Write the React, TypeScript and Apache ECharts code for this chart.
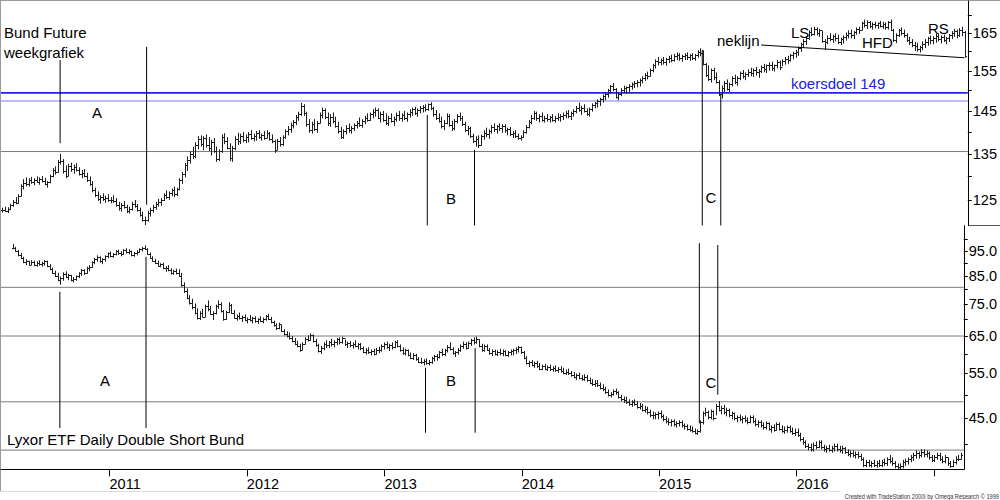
import React, { useEffect, useRef } from 'react';
import * as echarts from 'echarts';

const FONT = '"Liberation Sans", Arial, Helvetica, sans-serif';

// ---- Bund Future, weekly bars [high, low, close], first bar week of 2010-03-22 ----
const bundStart = '2010-03-22';
const bund2010 = [
  [123.4,122.4,123.0],[123.6,122.5,122.8],[123.5,122.3,123.2],[124.2,122.9,123.9],[125.0,123.6,124.6],
  [125.6,124.1,124.4],[126.2,124.2,125.9],[128.3,125.7,127.9],[129.4,127.2,128.6],[129.8,127.9,128.3],
  [129.6,127.8,129.2],[129.9,128.4,128.9],[129.6,128.1,129.3],[130.0,128.6,128.9],[129.8,128.2,129.4],
  [130.1,128.7,129.0],[129.7,128.1,128.4],[129.0,127.6,128.8],[130.4,128.5,130.1],[131.8,129.8,131.4],
  [132.2,130.4,131.0],[133.6,130.8,133.2],[135.0,132.6,133.4],[133.8,130.6,131.2],[132.4,129.6,130.2],
  [132.8,130.0,132.3],[133.0,131.0,131.6],[132.6,130.6,132.1],[132.9,131.1,131.5],[132.0,130.2,130.6],
  [131.4,129.6,130.8],[131.6,129.8,130.2],[130.8,128.8,129.3],[130.0,128.0,128.4],[129.0,126.6,127.0],
  [127.6,125.6,126.0],[126.8,124.8,125.2],[126.0,124.2,125.6],[126.4,124.8,125.2],[125.9,124.4,125.5],
  [126.2,124.6,124.9],
];
const bund2011 = [
  [125.6,124.3,125.1],[126.0,124.4,124.8],[125.4,123.6,123.9],[124.6,122.8,123.4],[124.4,122.6,124.0],
  [124.8,123.2,123.5],[124.0,122.3,122.7],[123.6,122.2,123.2],[124.6,122.8,124.2],[125.0,123.4,123.7],
  [124.2,122.6,122.9],[123.4,121.6,122.0],[122.6,120.6,121.0],[121.6,119.9,120.9],[122.8,120.6,122.4],
  [123.4,121.6,122.9],[124.0,122.4,123.6],[124.6,123.0,124.2],[125.2,123.6,124.6],[125.4,123.8,125.1],
  [126.4,124.8,126.0],[127.0,125.2,125.6],[126.8,125.0,126.4],[127.4,125.8,127.0],[127.8,125.6,126.2],
  [127.6,125.8,127.3],[129.6,127.0,129.2],[131.0,128.4,130.6],[133.0,129.8,132.6],[134.4,131.2,133.6],
  [135.6,132.8,135.0],[136.6,133.8,134.4],[137.6,134.0,137.0],[139.0,136.0,138.4],[139.2,136.6,137.2],
  [139.0,135.8,138.6],[139.4,136.4,137.0],[138.8,135.6,136.2],[138.2,134.6,137.6],[138.6,135.2,135.6],
  [136.6,133.2,133.8],[136.0,133.4,135.6],[139.4,135.2,138.8],[139.7,137.2,137.8],[138.8,136.0,136.4],
  [137.4,133.4,134.0],[136.8,133.2,136.2],[139.0,135.8,138.4],[139.8,137.0,137.8],[139.6,137.2,139.0],
  [140.0,137.6,138.2],[139.4,137.4,138.8],
];
const bund2012 = [
  [140.0,137.6,139.6],[140.4,138.2,138.6],[139.6,137.8,139.0],[140.2,138.0,139.8],[140.4,138.4,138.8],
  [139.6,138.0,139.2],[140.2,138.2,138.6],[140.4,138.6,139.8],[140.0,138.0,138.4],[139.4,137.4,137.8],
  [138.2,135.2,135.8],[138.4,135.8,137.8],[138.8,136.6,137.2],[139.2,136.8,138.8],[140.6,138.4,140.2],
  [141.4,139.2,140.6],[142.2,139.8,141.6],[142.8,140.8,142.4],[144.0,141.6,143.6],[144.8,142.6,144.2],
  [147.0,143.8,146.2],[146.6,143.8,144.4],[144.8,141.2,141.8],[143.0,139.8,140.4],[142.4,139.6,141.8],
  [143.0,140.2,140.6],[142.6,139.8,142.2],[144.6,142.0,144.0],[145.8,143.2,145.2],[145.6,143.0,143.6],
  [144.6,141.4,142.0],[144.2,141.2,143.6],[144.6,142.0,142.6],[143.6,141.0,141.4],[142.4,139.6,140.2],
  [141.2,138.4,138.8],[140.6,138.4,140.2],[141.6,139.4,141.0],[142.0,139.8,140.4],[141.4,139.6,141.0],
  [142.0,140.2,141.6],[142.6,140.8,142.2],[143.4,141.2,141.6],[143.0,141.0,142.6],[143.8,141.8,143.4],
  [144.4,142.4,142.8],[144.6,142.6,144.2],[145.4,143.2,144.8],[145.8,143.6,145.2],[145.6,143.0,143.4],
  [144.8,142.2,144.2],[145.0,142.4,142.8],
];
const bund2013 = [
  [144.4,141.6,142.2],[143.8,141.4,143.4],[144.4,142.2,142.6],[143.6,141.4,143.0],[144.6,142.4,144.0],
  [145.0,142.6,143.2],[144.4,142.4,144.0],[145.0,142.8,143.4],[144.6,142.4,144.2],[145.4,143.4,144.8],
  [145.8,143.8,145.4],[146.0,144.0,144.6],[145.6,143.6,145.2],[146.2,144.4,145.8],[146.4,144.6,146.0],
  [146.6,144.8,145.4],[146.8,145.0,146.6],[147.1,145.2,145.8],[146.0,143.6,144.2],[145.2,142.8,143.4],
  [144.4,142.2,142.6],[143.6,140.8,141.4],[142.8,140.4,142.2],[144.4,141.8,143.8],[144.2,141.2,141.6],
  [142.6,140.2,140.8],[143.0,140.4,142.6],[144.2,142.0,143.8],[144.6,142.6,143.2],[143.8,141.4,141.8],
  [142.4,140.0,140.4],[141.4,139.2,140.8],[141.2,138.6,139.0],[139.6,137.4,137.8],[139.0,136.6,138.4],
  [139.2,136.3,137.0],[139.4,136.8,139.0],[140.4,138.2,139.8],[141.0,138.8,139.4],[140.6,138.4,140.2],
  [141.6,139.6,141.2],[142.0,140.0,140.6],[141.6,139.6,141.4],[142.0,140.2,140.8],[141.8,139.8,141.4],
  [141.8,139.8,140.4],[141.0,139.2,140.6],[141.2,139.0,139.4],[140.2,138.6,139.8],[140.4,138.6,139.0],
  [139.6,138.2,138.6],[139.2,138.0,138.8],
];
const bund2014 = [
  [140.4,138.6,140.0],[141.6,139.6,141.2],[142.8,140.8,142.4],[144.0,141.8,143.4],[145.0,142.8,144.4],
  [144.8,142.6,143.2],[144.2,142.2,143.8],[144.6,142.4,142.8],[143.8,142.2,143.4],[144.2,142.4,143.0],
  [143.8,142.2,143.6],[144.2,142.4,142.8],[143.8,142.2,143.4],[144.4,142.6,143.6],[144.2,142.4,143.8],
  [144.6,142.8,144.0],[145.0,143.2,144.6],[145.2,143.2,143.8],[144.8,142.8,144.6],[145.4,143.6,145.0],
  [146.2,144.4,145.8],[147.0,144.8,145.2],[146.2,144.0,145.8],[146.6,144.6,145.0],[145.6,143.8,144.2],
  [145.8,143.6,145.4],[146.8,144.8,146.4],[147.2,145.6,146.8],[147.8,145.8,147.4],[148.2,146.2,147.8],
  [149.0,147.0,148.6],[149.6,147.6,149.2],[150.4,148.2,150.0],[151.4,149.2,151.0],[151.9,149.8,150.4],
  [150.6,148.0,148.4],[149.4,147.6,149.0],[150.6,148.6,150.2],[151.2,149.4,150.6],[151.0,149.2,150.8],
  [151.6,149.6,151.2],[152.0,150.2,151.6],[152.4,150.6,151.8],[152.6,150.8,152.2],[153.0,151.0,152.6],
  [153.6,151.8,153.2],[154.4,152.4,154.0],[154.8,152.8,153.6],[155.6,153.6,155.2],[156.8,154.6,156.4],
  [158.0,155.6,157.6],[158.6,156.4,157.2],
];
const bund2015 = [
  [158.2,156.4,157.8],[158.6,156.6,157.4],[158.4,156.3,158.0],[158.9,157.0,158.4],[159.2,157.2,157.8],
  [159.4,157.4,158.8],[159.8,157.8,159.2],[159.6,157.6,158.4],[159.2,157.4,158.8],[159.6,157.8,159.2],
  [159.8,157.8,158.6],[159.4,157.6,159.0],[159.6,157.8,158.4],[159.4,157.6,159.2],[160.4,158.4,160.0],
  [160.9,158.8,159.6],[160.4,156.4,156.8],[157.0,153.4,154.0],[156.4,152.4,153.0],[155.6,152.0,155.2],
  [155.8,152.6,153.4],[154.6,151.8,152.2],[152.6,148.6,149.2],[151.2,148.0,150.6],[152.4,149.6,151.8],
  [152.8,150.0,150.4],[152.0,149.6,151.6],[153.6,151.0,153.2],[154.0,151.6,152.2],[153.6,151.2,153.2],
  [154.8,152.6,154.4],[155.2,153.0,153.6],[154.6,152.6,154.2],[155.4,153.4,154.8],[155.8,153.6,154.4],
  [155.6,153.4,155.2],[156.0,153.8,154.6],[155.4,153.2,155.0],[156.4,154.4,156.0],[156.8,154.6,155.4],
  [156.6,154.4,156.4],[157.2,155.0,156.6],[157.4,155.0,155.6],[156.6,154.8,156.4],[157.8,155.6,157.2],
  [157.6,155.2,156.0],[158.0,156.2,157.6],[158.6,156.6,158.2],[158.9,156.8,157.8],[159.4,157.4,159.0],
  [160.0,158.0,159.6],[160.5,158.4,159.8],
];
const bund2016 = [
  [161.4,158.9,161.0],[162.4,160.0,162.0],[163.4,161.0,163.0],[164.2,161.8,163.6],[165.8,163.2,165.4],
  [166.6,164.2,164.8],[166.8,164.4,166.2],[166.6,164.4,165.0],[166.2,164.0,165.8],[165.6,162.4,162.8],
  [163.4,160.5,162.6],[164.4,162.0,163.8],[165.0,162.8,163.4],[164.6,162.4,164.2],[165.0,162.8,163.6],
  [164.6,162.0,162.6],[163.8,161.8,163.4],[164.4,162.2,164.0],[165.2,163.0,164.6],[165.8,163.6,165.2],
  [166.0,163.6,164.4],[165.6,163.4,165.4],[166.6,164.6,166.2],[166.8,164.8,166.0],[168.2,165.8,167.8],
  [168.8,166.6,167.4],[168.6,166.2,168.0],[168.4,166.4,167.0],[168.0,166.0,167.6],[168.2,166.4,167.2],
  [168.0,166.2,167.8],[168.4,166.6,167.0],[168.2,166.2,167.6],[168.0,166.0,166.6],[168.4,166.0,168.0],
  [168.8,165.6,166.0],[166.2,162.6,163.2],[165.0,162.3,164.6],[166.2,164.0,165.8],[166.6,164.4,165.2],
  [166.0,163.8,164.4],[165.0,162.6,163.2],[164.0,161.8,162.6],[163.4,161.2,161.8],[162.6,160.2,161.6],
  [162.4,160.0,160.6],[161.6,159.8,161.2],[162.8,160.4,162.2],[163.4,161.0,162.6],[164.0,161.6,163.6],
  [164.4,162.0,163.2],[164.2,162.0,163.8],
];
const bund2017 = [
  [164.8,162.4,164.2],[165.0,162.8,163.4],[164.4,162.2,164.0],[164.6,162.6,163.2],[164.0,162.0,163.6],
  [164.8,162.6,164.4],[165.6,163.4,165.2],[166.2,164.0,165.6],[166.0,163.6,164.4],[166.4,164.0,165.8],
  [166.8,164.2,165.4],[165.6,158.4,158.8],
];

// ---- Lyxor ETF Daily Double Short Bund, weekly bars [high, low, close], first bar week of 2010-04-19 ----
const lyxorStart = '2010-04-19';
const lyxor2010 = [
  [98.0,95.8,96.2],[96.8,94.7,95.0],[95.4,92.8,93.2],[94.2,91.6,92.0],[92.6,90.0,90.4],
  [91.6,89.2,90.8],[91.0,89.0,89.4],[91.2,89.2,90.6],[91.0,88.8,89.4],[90.8,88.6,90.2],
  [91.2,89.0,89.6],[90.6,88.6,90.0],[91.2,89.0,90.8],[91.0,88.4,88.8],[89.6,87.2,87.6],
  [88.2,85.8,86.2],[87.0,84.6,85.0],[86.2,83.0,83.4],[84.8,81.7,84.2],[86.4,83.2,85.8],
  [86.8,84.2,84.6],[85.8,83.4,85.2],[85.4,83.0,83.4],[84.6,82.6,84.0],[85.2,83.2,84.8],
  [86.4,84.2,86.0],[87.8,85.0,87.4],[87.6,85.4,86.0],[88.6,85.8,88.2],[89.2,86.8,88.6],
  [90.8,88.2,90.4],[92.2,89.6,91.8],[93.2,90.6,92.4],[92.8,90.2,91.0],[92.0,89.6,91.6],
  [93.2,90.6,92.8],[94.4,92.0,94.0],
];
const lyxor2011 = [
  [94.8,92.4,93.0],[94.2,92.2,93.8],[95.4,93.2,95.0],[95.6,93.4,94.2],[95.0,92.8,93.6],
  [95.8,93.4,95.4],[96.2,94.0,94.6],[95.8,93.6,95.2],[95.2,92.8,93.4],[94.6,92.6,94.2],
  [95.4,93.2,94.8],[96.2,94.2,95.8],[96.8,94.8,96.4],[97.5,95.4,95.8],[96.2,93.4,93.8],
  [94.4,91.8,92.2],[92.8,90.6,91.0],[91.8,89.6,90.2],[91.0,88.6,89.0],[90.0,88.4,89.6],
  [90.2,87.6,88.0],[88.8,86.6,88.2],[89.2,86.8,87.2],[88.0,85.6,86.0],[87.4,85.4,87.0],
  [87.8,85.6,86.2],[87.6,84.6,85.0],[86.2,81.0,81.6],[82.6,78.8,79.4],[80.4,76.6,77.2],
  [78.0,74.8,75.4],[76.8,73.2,74.0],[75.2,71.6,72.2],[73.6,70.0,70.6],[72.6,69.8,72.0],
  [73.4,70.6,70.8],[74.8,70.8,74.2],[76.2,72.6,73.4],[74.4,71.4,71.8],[72.6,69.8,72.2],
  [74.8,71.6,74.4],[76.2,73.4,75.0],[75.6,72.2,72.6],[73.0,69.6,70.2],[72.8,69.8,72.4],
  [75.6,72.0,74.6],[75.0,71.8,72.2],[73.0,70.2,70.6],[71.6,69.6,71.2],[72.2,70.0,70.4],
  [71.2,69.2,70.8],[71.6,69.4,69.8],
];
const lyxor2012 = [
  [70.6,68.8,70.2],[71.4,69.4,69.8],[70.8,68.8,70.4],[71.0,69.0,69.4],[70.4,68.6,70.0],
  [71.0,69.2,69.6],[70.6,68.8,70.2],[71.4,69.6,71.0],[71.8,69.8,70.2],[70.8,68.8,69.2],
  [69.6,67.8,68.2],[68.8,66.8,67.4],[69.0,67.0,68.6],[68.4,66.2,66.6],[67.0,65.2,65.6],
  [66.4,64.6,65.0],[66.0,64.0,64.4],[65.0,63.2,63.6],[64.4,62.4,62.8],[63.6,61.8,62.2],
  [62.8,60.6,61.2],[63.2,61.0,62.8],[64.6,62.6,64.2],[65.2,63.4,63.8],[65.8,63.6,65.2],
  [65.4,63.2,63.6],[64.2,62.0,62.4],[62.8,60.4,60.8],[62.2,60.0,61.6],[63.2,61.0,62.8],
  [63.8,61.6,62.4],[63.6,61.6,63.2],[64.2,62.0,62.6],[63.8,61.8,63.4],[64.4,62.4,64.0],
  [64.6,62.6,63.2],[64.8,62.8,64.4],[64.0,62.2,62.6],[63.4,61.6,63.0],[63.6,61.8,62.4],
  [63.2,61.4,62.8],[63.8,61.8,62.2],[63.0,61.2,62.6],[63.0,61.0,61.6],[62.0,60.2,60.6],
  [61.6,59.8,61.2],[61.8,60.0,60.4],[61.2,59.6,60.8],[61.4,59.6,60.0],[61.6,59.8,61.2],
  [62.0,60.2,61.0],[62.6,60.6,62.2],
];
const lyxor2013 = [
  [63.2,61.2,62.6],[63.4,61.4,62.0],[62.8,60.8,62.4],[63.2,61.2,61.8],[63.6,61.6,63.2],
  [63.8,61.8,62.2],[62.6,60.6,61.0],[61.8,59.8,60.2],[61.4,59.6,61.0],[61.2,59.4,59.8],
  [60.4,58.6,59.0],[60.2,58.4,59.6],[60.0,58.2,58.6],[59.2,57.6,58.0],[59.0,57.4,57.8],
  [58.6,57.0,58.2],[58.8,57.2,57.6],[58.4,57.0,58.0],[59.2,57.4,58.8],[59.8,58.0,59.4],
  [60.0,58.2,59.2],[60.8,58.8,60.4],[61.4,59.4,60.0],[61.4,59.4,61.0],[62.4,60.4,62.0],
  [63.2,61.0,61.4],[61.8,59.8,60.2],[60.8,59.2,60.6],[61.6,59.8,61.2],[62.6,60.6,62.2],
  [63.4,61.4,62.8],[63.2,61.2,61.6],[63.4,61.4,63.0],[64.2,62.2,63.8],[64.6,62.6,63.2],
  [64.8,62.8,64.2],[64.0,61.8,62.2],[62.8,60.6,61.0],[62.6,60.6,62.2],[62.6,60.8,61.2],
  [61.6,59.8,60.2],[61.2,59.4,60.8],[61.2,59.6,60.0],[61.0,59.4,60.6],[61.4,59.6,60.2],
  [61.2,59.4,60.8],[61.0,59.4,59.8],[60.8,59.2,60.4],[61.2,59.6,60.8],[61.4,59.6,61.0],
  [61.8,60.0,61.4],[62.2,60.4,61.8],
];
const lyxor2014 = [
  [62.0,60.0,60.4],[60.8,58.6,59.0],[59.4,57.2,57.6],[58.2,56.6,57.8],[58.4,56.8,57.2],
  [58.0,56.4,57.6],[58.2,56.4,56.8],[57.6,55.8,56.2],[57.2,55.8,56.8],[57.4,55.8,56.2],
  [57.0,55.6,56.6],[57.2,55.6,56.0],[56.8,55.4,56.4],[57.0,55.4,55.8],[56.6,55.2,56.2],
  [56.8,55.2,55.6],[56.4,54.8,55.2],[56.0,54.6,55.4],[56.2,54.6,55.0],[55.6,54.2,54.6],
  [55.4,53.8,54.2],[55.0,53.4,54.6],[55.2,53.6,54.0],[54.6,53.2,53.6],[54.8,53.2,54.2],
  [54.6,53.0,53.4],[54.0,52.4,52.8],[53.6,52.0,52.4],[53.4,51.8,52.8],[53.4,51.8,52.2],
  [52.8,51.2,51.6],[52.4,50.8,51.2],[51.8,50.2,50.6],[51.2,49.6,50.0],[50.6,49.4,50.2],
  [51.2,49.8,50.8],[51.4,50.0,50.6],[50.8,49.2,49.6],[50.0,48.6,49.0],[49.6,48.2,48.8],
  [49.6,48.0,48.4],[49.0,47.6,48.0],[48.8,47.4,48.4],[49.0,47.6,48.0],[48.6,47.0,47.4],
  [48.2,46.8,47.6],[48.0,46.4,46.8],[47.6,46.2,47.0],[47.4,45.8,46.2],[46.8,45.2,45.6],
  [46.4,44.8,45.6],[46.2,44.8,45.8],
];
const lyxor2015 = [
  [46.4,44.8,46.0],[46.6,45.0,45.4],[45.8,44.4,44.8],[45.4,44.0,44.4],[45.0,43.6,44.2],
  [44.8,43.4,44.4],[44.8,43.4,43.8],[44.4,43.2,44.0],[44.6,43.4,44.2],[44.6,43.2,43.6],
  [44.0,42.8,43.4],[43.8,42.6,43.0],[43.6,42.4,42.8],[43.4,42.2,42.6],[43.0,41.9,42.2],
  [42.8,41.8,42.6],[44.6,42.2,44.2],[46.4,43.8,46.0],[47.2,45.4,46.2],[46.6,44.8,45.2],
  [46.8,44.8,46.4],[46.6,44.6,45.0],[48.0,45.6,47.6],[48.6,46.4,46.8],[47.6,45.8,47.2],
  [47.8,45.8,46.2],[47.2,45.4,46.8],[47.0,45.2,45.6],[46.4,44.8,46.0],[46.2,44.6,45.0],
  [45.6,44.2,45.2],[45.8,44.4,44.8],[45.4,44.0,45.0],[45.6,44.2,44.6],[45.2,43.8,44.2],
  [45.6,44.0,45.2],[45.6,44.0,44.4],[45.0,43.4,43.8],[44.6,43.2,44.2],[44.6,43.2,43.6],
  [44.2,42.8,43.2],[44.4,42.8,44.0],[44.2,42.6,43.0],[43.6,42.2,43.2],[43.8,42.4,42.8],
  [44.2,42.6,43.8],[44.2,42.6,43.0],[43.6,42.2,42.6],[43.4,42.0,42.8],[43.6,42.2,43.2],
  [43.6,42.2,42.6],[43.2,41.8,42.2],
];
const lyxor2016 = [
  [43.0,41.6,42.4],[43.0,41.4,41.8],[42.2,40.6,41.0],[41.4,40.0,40.4],[40.8,39.4,39.8],
  [40.2,39.0,39.6],[40.2,38.8,39.2],[40.4,38.8,40.0],[40.6,39.2,39.6],[40.8,39.4,40.4],
  [40.8,39.2,39.6],[40.0,38.8,39.2],[39.8,38.6,39.4],[40.0,38.8,39.0],[39.8,38.6,39.4],
  [40.2,38.8,39.8],[40.2,38.8,39.2],[39.8,38.6,39.0],[39.8,38.4,39.4],[39.6,38.4,38.8],
  [39.2,38.0,38.4],[39.0,37.8,38.6],[39.0,37.8,38.2],[38.8,37.6,38.4],[38.8,37.6,38.0],
  [38.4,37.2,37.6],[37.8,36.2,36.6],[37.4,36.2,37.0],[37.4,36.2,36.6],[37.2,36.1,36.8],
  [37.4,36.2,36.6],[37.2,36.1,36.8],[37.4,36.2,36.6],[37.4,36.2,37.0],[37.6,36.4,36.8],
  [37.8,36.4,37.6],[38.2,36.8,37.2],[37.8,36.4,36.8],[37.2,36.0,36.4],[36.8,35.9,36.2],
  [36.8,35.9,36.4],[37.4,36.0,37.0],[37.6,36.4,37.2],[37.8,36.6,37.6],[38.2,37.0,37.8],
  [38.6,37.2,38.2],[39.0,37.6,38.6],[38.8,37.6,38.2],[39.2,37.8,38.8],[39.2,37.8,38.4],
  [39.0,37.8,38.6],[38.8,37.4,37.8],
];
const lyxor2017 = [
  [38.2,37.0,37.4],[38.2,37.0,37.8],[38.6,37.4,38.2],[38.6,37.2,37.6],[38.0,36.8,37.2],
  [38.2,36.8,37.8],[37.8,36.4,36.8],[37.2,36.1,36.4],[37.4,36.2,37.0],[38.0,36.6,37.6],
  [38.2,37.2,37.6],[38.6,37.4,38.2],
];

// ---- axes ----
const yearTicks = [2011, 2012, 2013, 2014, 2015, 2016, 2017];
const yearLabels = [2011, 2012, 2013, 2014, 2015, 2016];
const bundTickValues = [125, 130, 135, 140, 145, 150, 155, 160, 165, 170];
const bundLabelValues = [125, 135, 145, 155, 165];
const lyxorTickValues = [40, 45, 50, 55, 60, 65, 70, 75, 80, 85, 90, 95, 100];
const lyxorLabelValues = [45, 55, 65, 75, 85, 95];

// ---- drawn annotations (values) ----
const bundTarget = [149.4];
const bundTargetAux = [147.4];
const bundSupport = [135.5];
const lyxorSupport = [80.8, 65, 48.45, 39.05];
const neckline: [string, number][] = [['2015-09-21', 161.8], ['2017-03-12', 158.4]];
// [date, from value, to value]
const bundMarks: [string, number, number][] = [
  ['2010-08-22', 157.8, 137.4], ['2011-04-08', 161.3, 124.0],
  ['2013-04-20', 144.0, 119.8], ['2013-08-23', 135.9, 119.8],
  ['2015-04-18', 160.5, 119.8], ['2015-06-06', 148.9, 119.8],
];
const lyxorMarks: [string, number, number][] = [
  ['2010-08-22', 79.2, 43.1], ['2011-04-08', 92.6, 43.1],
  ['2013-04-20', 56.4, 42.2], ['2013-08-30', 61.6, 42.2],
  ['2015-04-18', 98.4, 44.0], ['2015-06-06', 97.6, 50.0],
];

const DAY = 864e5;
const utc = (s: string) => Date.parse(s + 'T00:00:00Z');
const X_MIN = utc('2011-01-01') - 288.5 * DAY;
const X_MAX = utc('2011-01-01') + 2271 * DAY;

function toBars(chunks: number[][][], start: string) {
  const rows = ([] as number[][]).concat(...chunks);
  const t0 = utc(start);
  return rows.map((r, i) => [t0 + i * 7 * DAY, r[0], r[1], r[2], i > 0 ? rows[i - 1][2] : r[2]]);
}

const renderBar = (_p: any, api: any) => {
  const t = api.value(0);
  const hi = api.coord([t, api.value(1)]);
  const lo = api.coord([t, api.value(2)]);
  const cl = api.coord([t, api.value(3)]);
  const op = api.coord([t, api.value(4)]);
  const x = Math.round(hi[0]) + 0.5;
  const yc = Math.round(cl[1]) + 0.5;
  const yo = Math.round(op[1]) + 0.5;
  const style = { stroke: '#1e1e1e', lineWidth: 1 };
  return {
    type: 'group',
    children: [
      { type: 'line', shape: { x1: x, y1: hi[1], x2: x, y2: lo[1] }, style },
      { type: 'line', shape: { x1: x - 1.5, y1: yo, x2: x, y2: yo }, style },
      { type: 'line', shape: { x1: x, y1: yc, x2: x + 1.5, y2: yc }, style },
    ],
  };
};

const seg = (idx: number, pts: any[], color: string, width: number, z = 4) => ({
  type: 'line', xAxisIndex: idx, yAxisIndex: idx, data: pts, symbol: 'none', silent: true,
  lineStyle: { color, width }, z, emphasis: { disabled: true }, clip: true,
});

const txt = (text: string, x: number, y: number, extra: any = {}, props: any = {}) => ({
  type: 'text', x, y, silent: true, z: 100, ...props,
  style: {
    text, fill: '#000', fontSize: 15, fontFamily: FONT,
    textAlign: 'left', align: 'left', textVerticalAlign: 'middle', verticalAlign: 'middle', ...extra,
  },
});

function buildOption() {
  const bundData = toBars([bund2010, bund2011, bund2012, bund2013, bund2014, bund2015, bund2016, bund2017], bundStart);
  const lyxorData = toBars([lyxor2010, lyxor2011, lyxor2012, lyxor2013, lyxor2014, lyxor2015, lyxor2016, lyxor2017], lyxorStart);

  const axisText = { color: '#000', fontSize: 14.5, fontFamily: FONT };
  const series: any[] = [
    ...bundSupport.map(v => seg(0, [[X_MIN, v], [X_MAX, v]], '#7a7a7a', 1, 1)),
    ...bundTargetAux.map(v => seg(0, [[X_MIN, v], [X_MAX, v]], '#7c7cf2', 1, 1)),
    ...bundTarget.map(v => seg(0, [[X_MIN, v], [X_MAX, v]], '#2222e6', 1.6, 1)),
    ...lyxorSupport.map(v => seg(1, [[X_MIN, v], [X_MAX, v]], '#7a7a7a', 1, 1)),
    {
      type: 'custom', xAxisIndex: 0, yAxisIndex: 0, data: bundData, renderItem: renderBar,
      encode: { x: 0, y: [1, 2] }, z: 3, silent: true, clip: true,
    },
    {
      type: 'custom', xAxisIndex: 1, yAxisIndex: 1, data: lyxorData, renderItem: renderBar,
      encode: { x: 0, y: [1, 2] }, z: 3, silent: true, clip: true,
    },
    ...bundMarks.map(m => seg(0, [[utc(m[0]), m[1]], [utc(m[0]), m[2]]], '#000', 1)),
    ...lyxorMarks.map(m => seg(1, [[utc(m[0]), m[1]], [utc(m[0]), m[2]]], '#000', 1)),
    seg(0, neckline.map(p => [utc(p[0]), p[1]]), '#000', 1),
  ];

  return {
    animation: false,
    backgroundColor: '#ffffff',
    textStyle: { fontFamily: FONT },
    grid: [
      { left: 1, right: 31.7, top: 1, height: 224.7 },
      { left: 1, right: 31.7, top: 225.7, height: 243.6 },
    ],
    xAxis: [
      { type: 'value', gridIndex: 0, min: X_MIN, max: X_MAX, show: false, splitLine: { show: false } },
      {
        type: 'value', gridIndex: 1, min: X_MIN, max: X_MAX,
        axisLine: { show: true, lineStyle: { color: '#000', width: 1 } },
        axisTick: { show: true, length: 7, customValues: yearTicks.map(y => Date.UTC(y, 0, 1)), lineStyle: { color: '#000' } },
        axisLabel: {
          ...axisText, customValues: yearLabels.map(y => Date.UTC(y, 0, 1)), align: 'left', margin: 7,
          formatter: (v: number) => String(new Date(v).getUTCFullYear()),
        },
        splitLine: { show: false },
      },
    ],
    yAxis: [
      {
        type: 'log', gridIndex: 0, position: 'right', min: 119.76, max: 174.1,
        axisLine: { show: true, lineStyle: { color: '#000' } },
        axisTick: { show: true, length: 4, customValues: bundTickValues, lineStyle: { color: '#000' } },
        axisLabel: { ...axisText, customValues: bundLabelValues, margin: 5, formatter: (v: number) => String(Math.round(v)) },
        splitLine: { show: false },
      },
      {
        type: 'log', gridIndex: 1, position: 'right', min: 35.84, max: 106.4,
        axisLine: { show: true, lineStyle: { color: '#000' } },
        axisTick: { show: true, length: 4, customValues: lyxorTickValues, lineStyle: { color: '#000' } },
        axisLabel: { ...axisText, customValues: lyxorLabelValues, margin: 5, formatter: (v: number) => (Math.round(v * 10) / 10).toFixed(1) },
        splitLine: { show: false },
      },
    ],
    series,
    graphic: [
      { type: 'line', silent: true, shape: { x1: 0, y1: 0.5, x2: 1000, y2: 0.5 }, style: { stroke: '#9a9a9a', lineWidth: 1 } },
      { type: 'line', silent: true, shape: { x1: 0.5, y1: 0, x2: 0.5, y2: 492 }, style: { stroke: '#9a9a9a', lineWidth: 1 } },
      { type: 'line', silent: true, shape: { x1: 0, y1: 491.5, x2: 840, y2: 491.5 }, style: { stroke: '#dcdcdc', lineWidth: 1 } },
      { type: 'line', silent: true, shape: { x1: 968, y1: 225.5, x2: 1000, y2: 225.5 }, style: { stroke: '#555', lineWidth: 1 } },
      txt('Bund Future', 4, 32),
      txt('weekgrafiek', 4, 52),
      txt('A', 97, 112, { textAlign: 'center', align: 'center' }),
      txt('B', 451, 198, { textAlign: 'center', align: 'center' }),
      txt('C', 711, 197, { textAlign: 'center', align: 'center' }),
      txt('neklijn', 717, 40),
      txt('LS', 791, 32),
      txt('HFD', 862, 42),
      txt('RS', 928, 28),
      txt('koersdoel 149', 791, 83, { fill: '#2222e6' }),
      txt('A', 105, 380, { textAlign: 'center', align: 'center' }),
      txt('B', 451, 380, { textAlign: 'center', align: 'center' }),
      txt('C', 711, 382, { textAlign: 'center', align: 'center' }),
      txt('Lyxor ETF Daily Double Short Bund', 7, 439),
      txt('Created with TradeStation 2000i by Omega Research \u00a9 1999', 999, 496,
        { fontSize: 7, fill: '#333', textAlign: 'right', align: 'right' }, { scaleX: 0.81 }),
    ],
  };
}

export default function App() {
  const ref = useRef<HTMLDivElement>(null);
  useEffect(() => {
    if (!ref.current) return;
    const chart = echarts.init(ref.current, null, { renderer: 'svg' });
    chart.setOption(buildOption() as any);
    return () => chart.dispose();
  }, []);
  return (
    <div
      ref={ref}
      style={{ position: 'fixed', left: 0, top: 0, width: 1000, height: 500, background: '#fff' }}
    />
  );
}
